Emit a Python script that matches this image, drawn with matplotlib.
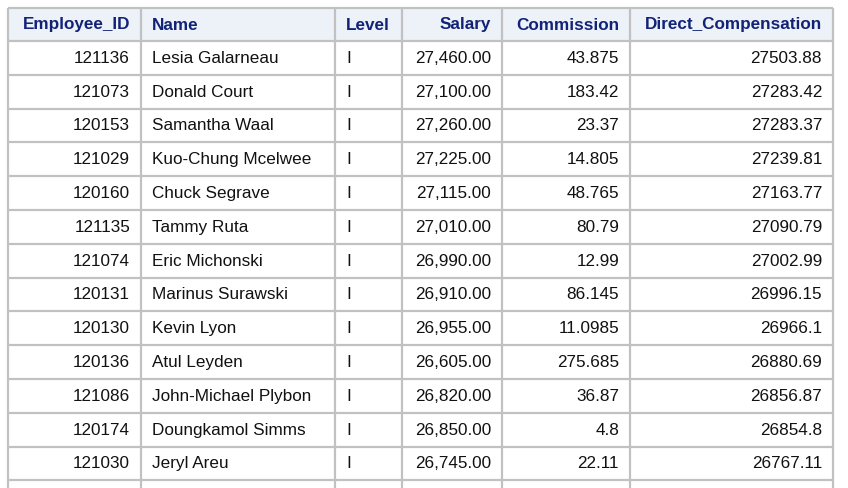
import matplotlib
matplotlib.use("Agg")
import matplotlib.pyplot as plt
from matplotlib.patches import Rectangle

columns = ["Employee_ID", "Name", "Level", "Salary", "Commission", "Direct_Compensation"]
employee_id = ["121136","121073","120153","121029","120160","121135","121074","120131","120130","120136","121086","120174","121030"]
names = ["Lesia Galarneau","Donald Court","Samantha Waal","Kuo-Chung Mcelwee","Chuck Segrave","Tammy Ruta",
         "Eric Michonski","Marinus Surawski","Kevin Lyon","Atul Leyden","John-Michael Plybon","Doungkamol Simms","Jeryl Areu"]
levels = ["I"] * 13
salary = ["27,460.00","27,100.00","27,260.00","27,225.00","27,115.00","27,010.00","26,990.00","26,910.00",
          "26,955.00","26,605.00","26,820.00","26,850.00","26,745.00"]
commission = ["43.875","183.42","23.37","14.805","48.765","80.79","12.99","86.145","11.0985","275.685","36.87","4.8","22.11"]
direct_comp = ["27503.88","27283.42","27283.37","27239.81","27163.77","27090.79","27002.99","26996.15",
               "26966.1","26880.69","26856.87","26854.8","26767.11"]

W, H = 848, 488
fig = plt.figure(figsize=(W/100, H/100), dpi=100)
ax = fig.add_axes([0, 0, 1, 1])
ax.set_xlim(0, W); ax.set_ylim(H, 0); ax.axis("off")

xs = [8, 141, 335, 402, 502, 630, 833]
aligns = ["right", "left", "left", "right", "right", "right"]
top, hdr_h, row_h = 8, 33, 33.8
border = "#c1c1c1"

ax.add_patch(Rectangle((xs[0], top), xs[-1]-xs[0], hdr_h, facecolor="#edf2f9", edgecolor="none"))
rows = list(zip(employee_id, names, levels, salary, commission, direct_comp))
n = len(rows)
bottom = H + 5
# horizontal lines
ys = [top, top + hdr_h] + [top + hdr_h + row_h*(i+1) for i in range(n)]
for y in ys:
    ax.plot([xs[0], xs[-1]], [y, y], color=border, lw=1.6, solid_capstyle="butt")
for x in xs:
    ax.plot([x, x], [top, bottom], color=border, lw=1.6, solid_capstyle="butt")

def put(ci, y, s, **kw):
    if aligns[ci] == "right":
        ax.text(xs[ci+1]-11, y, s, ha="right", va="center", **kw)
    else:
        ax.text(xs[ci]+11, y, s, ha="left", va="center", **kw)

for ci, c in enumerate(columns):
    put(ci, top + hdr_h/2 + 0.5, c, fontsize=12.3, fontweight="bold", color="#112277", family="Liberation Sans")
for ri, r in enumerate(rows):
    y = top + hdr_h + row_h*ri + row_h/2 + 0.5
    for ci, s in enumerate(r):
        put(ci, y, s, fontsize=12.3, color="#111111", family="Liberation Sans")

fig.savefig("out.png", dpi=100, facecolor="white")
